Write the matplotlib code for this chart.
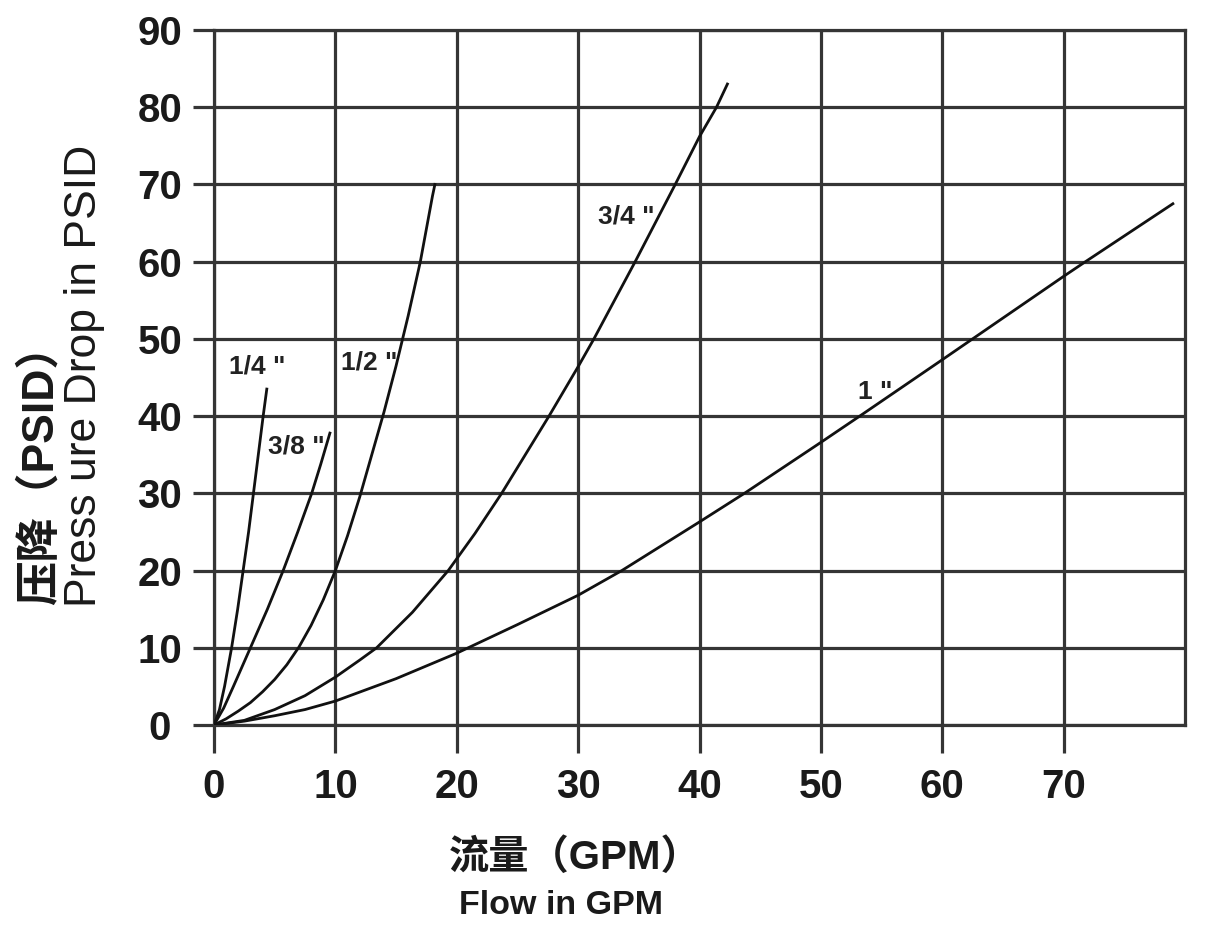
import matplotlib
matplotlib.use("Agg")
import matplotlib.pyplot as plt

# ---- data ----
x_ticks = [0, 10, 20, 30, 40, 50, 60, 70]
y_ticks = [0, 10, 20, 30, 40, 50, 60, 70, 80, 90]

q14_x = [0, 0.45, 0.87, 1.45, 1.95, 2.4, 2.85, 3.25, 3.65, 4.05, 4.35]
q14_y = [0, 2, 5, 10, 15, 20, 25, 30, 35, 40, 43.5]

q38_x = [0, 0.8, 1.6, 3.0, 4.4, 5.7, 6.9, 8.05, 8.8, 9.55]
q38_y = [0, 2.2, 5, 10, 15, 20, 25, 30, 33.8, 37.8]

q12_x = [0, 1, 2, 3, 4, 5, 6, 7, 8, 9, 10, 11, 12, 13, 14, 15, 16, 17, 18, 18.2]
q12_y = [0, 0.8, 1.8, 2.9, 4.3, 5.9, 7.8, 10.1, 12.9, 16.2, 20, 24.5, 29.5, 35,
         40.5, 46.5, 53, 60, 68.5, 70]

q34_x = [0, 2.5, 5, 7.5, 10, 12, 13.4, 16.35, 19.3, 21.5, 23.7, 27.6, 30, 31.3,
         34.7, 38.0, 40, 41.4, 42.3]
q34_y = [0, 0.6, 2.0, 3.8, 6.2, 8.4, 10, 14.6, 20, 24.8, 30, 40, 46.4, 50,
         60, 70, 76.2, 80, 83]

q1_x = [0, 2.5, 5, 7.5, 10, 15, 20, 25, 30, 33.6, 40, 43.7, 50, 53.2, 60,
        62.5, 70, 71.8, 79.0]
q1_y = [0, 0.5, 1.2, 2.0, 3.1, 6.0, 9.3, 13.0, 16.8, 20, 26.3, 30, 36.6, 40,
        47.3, 50, 58.1, 60, 67.5]

series_labels = ['1/4 "', '3/8 "', '1/2 "', '3/4 "', '1 "']
label_x = [3.54, 6.75, 12.8, 34.0, 54.5]
label_y = [46.4, 36.0, 47.0, 65.9, 43.1]

x_title_cn = "流量（GPM）"
x_title_en = "Flow in GPM"
y_title_cn = "压降（PSID）"
y_title_en = "Press ure Drop in PSID"

FAM = ["Liberation Sans", "Noto Sans CJK SC", "DejaVu Sans"]
plt.rcParams["font.family"] = FAM

W, H = 1206, 926
fig = plt.figure(figsize=(W / 100, H / 100), dpi=100)
ax = fig.add_axes([214 / W, 1 - 725 / H, (1185 - 214) / W, (725 - 30) / H])

grid_c = "#353535"
ax.set_xlim(0, 80)
ax.set_ylim(0, 90)
ax.set_xticks(x_ticks)
ax.set_yticks(y_ticks)
ax.grid(True, color=grid_c, linewidth=2.3)
ax.set_axisbelow(True)
for s in ax.spines.values():
    s.set_color(grid_c)
    s.set_linewidth(2.3)

ax.tick_params(axis="both", direction="out", length=15, width=2.3, color=grid_c,
               labelsize=29, labelcolor="#1a1a1a")
ax.tick_params(axis="x", length=20, pad=11)
ax.tick_params(axis="y", pad=24)
for lab in ax.get_yticklabels():
    lab.set_horizontalalignment("center")
    lab.set_fontweight("bold")
for lab in ax.get_xticklabels():
    lab.set_fontweight("bold")

for xs, ys in [(q14_x, q14_y), (q38_x, q38_y), (q12_x, q12_y), (q34_x, q34_y), (q1_x, q1_y)]:
    ax.plot(xs, ys, color="#111111", linewidth=2.0, solid_joinstyle="round", zorder=3)

for t, lx, ly in zip(series_labels, label_x, label_y):
    ax.text(lx, ly, t, ha="center", va="center", fontsize=19, fontweight="bold",
            color="#222222", zorder=4)

fig.text(575 / W, 1 - 858 / H, x_title_cn, ha="center", va="center", fontsize=29,
         fontweight="bold", color="#1a1a1a", family=FAM)
fig.text(561 / W, 1 - 906 / H, x_title_en, ha="center", va="center", fontsize=24.5,
         fontweight="bold", color="#1a1a1a", family=FAM)

fig.text(40 / W, 1 - 605 / H, y_title_cn, rotation=90, ha="center", va="bottom",
         fontsize=32, fontweight="bold", color="#1a1a1a", family=FAM)
fig.text(85 / W, 1 - 607 / H, y_title_en, rotation=90, ha="center", va="bottom",
         fontsize=32, color="#1a1a1a", family=FAM)

fig.savefig("out.png", dpi=100)
